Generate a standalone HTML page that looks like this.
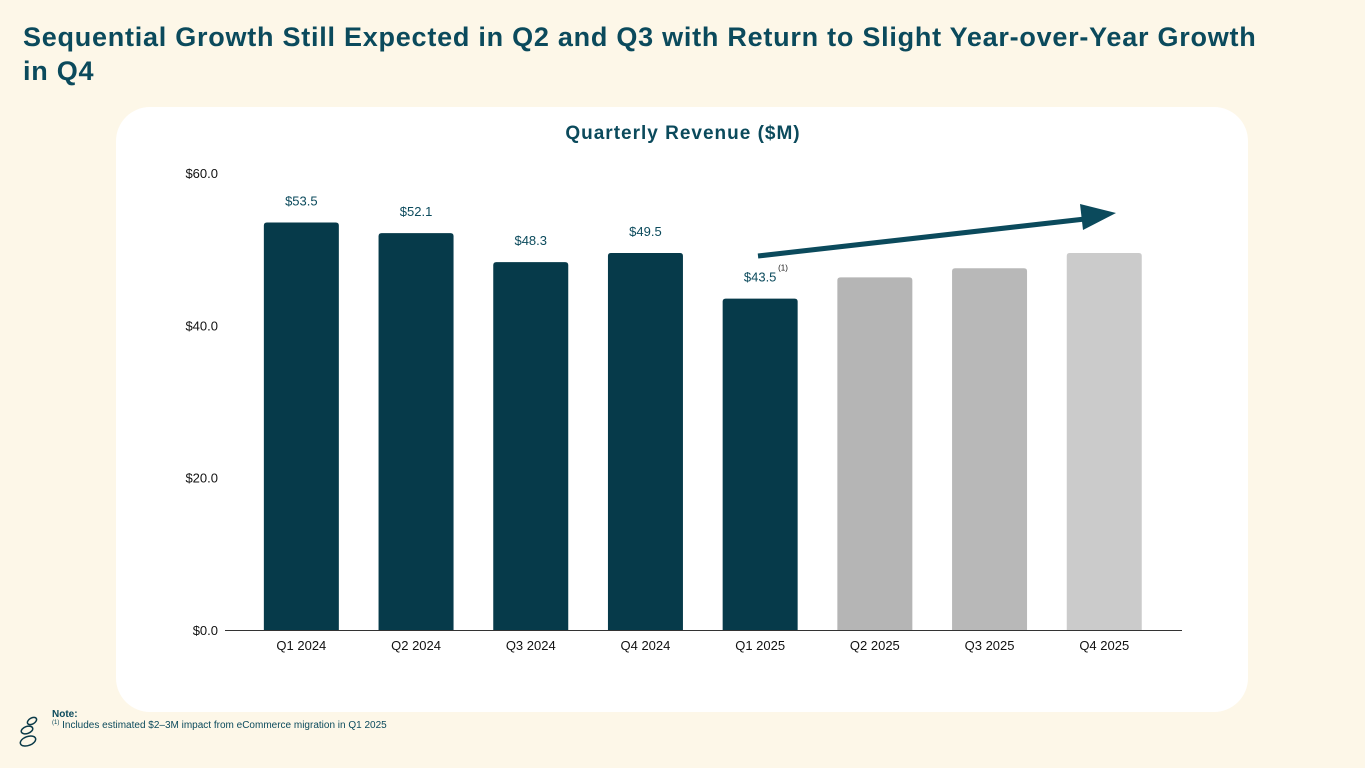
<!DOCTYPE html>
<html><head><meta charset="utf-8">
<style>
body{margin:0;width:1365px;height:768px;background:#fdf7e8;font-family:"Liberation Sans",sans-serif;position:relative;overflow:hidden}
#title{position:absolute;left:23px;top:20px;font-size:27px;font-weight:bold;color:#0b4a5c;line-height:34px;letter-spacing:0.75px}
#card{position:absolute;left:116px;top:107px;width:1132px;height:605px;background:#fff;border-radius:34px}
#note{position:absolute;left:52px;top:709px;font-size:10px;color:#0b4a5c}
</style></head><body>
<div id="title">Sequential Growth Still Expected in Q2 and Q3 with Return to Slight Year-over-Year Growth<br>in Q4</div>
<div id="card"></div>
<svg id="chart" width="1365" height="768" style="position:absolute;left:0;top:0">
<text x="683" y="139" text-anchor="middle" font-size="19" font-weight="bold" fill="#0b4a5c" letter-spacing="1">Quarterly Revenue ($M)</text>
</svg>
<div id="note"><b>Note:</b><br><span style="font-size:6px;vertical-align:top">(1)</span> Includes estimated $2–3M impact from eCommerce migration in Q1 2025</div>
<svg width="30" height="40" style="position:absolute;left:15px;top:712px">
<ellipse cx="17" cy="9" rx="5" ry="3" fill="none" stroke="#0b3a48" stroke-width="1.5" transform="rotate(-30 17 9)"/>
<ellipse cx="12" cy="18" rx="6" ry="3.5" fill="none" stroke="#0b3a48" stroke-width="1.5" transform="rotate(-20 12 18)"/>
<ellipse cx="13" cy="29" rx="8" ry="4.5" fill="none" stroke="#0b3a48" stroke-width="1.5" transform="rotate(-20 13 29)"/>
</svg>
<script>
const categories=["Q1 2024","Q2 2024","Q3 2024","Q4 2024","Q1 2025","Q2 2025","Q3 2025","Q4 2025"];
const values=[53.5,52.1,48.3,49.5,43.5,46.3,47.5,49.5];
const valueLabels=["$53.5","$52.1","$48.3","$49.5","$43.5","","",""];
const barColors=["#063a4a","#063a4a","#063a4a","#063a4a","#063a4a","#b5b5b5","#b8b8b8","#cbcbcb"];
const yTicks=[0,20,40,60];
const yTickLabels=["$0.0","$20.0","$40.0","$60.0"];
const svg=document.getElementById('chart');
const NS='http://www.w3.org/2000/svg';
const y0=630,yTop=173,yMax=60;
const yS=v=>y0-(y0-yTop)*v/yMax;
const x0=244,step=114.7,bw=75;
const xC=i=>x0+step*(i+0.5);
function mk(t,a){const e=document.createElementNS(NS,t);for(const k in a)e.setAttribute(k,a[k]);svg.appendChild(e);return e;}
yTicks.forEach((t,i)=>{
 const e=mk('text',{x:218,y:yS(t)+5,'text-anchor':'end','font-size':13,fill:'#111'});
 e.textContent=yTickLabels[i];
 
 
});
const ax=mk('line',{x1:225,x2:1182,y1:y0+0.5,y2:y0+0.5,stroke:'#333','stroke-width':1});


categories.forEach((c,i)=>{
 const top=yS(values[i]);
 const b=mk('path',{d:`M${xC(i)-bw/2},${y0} V${top+3} Q${xC(i)-bw/2},${top} ${xC(i)-bw/2+3},${top} H${xC(i)+bw/2-3} Q${xC(i)+bw/2},${top} ${xC(i)+bw/2},${top+3} V${y0} Z`,fill:barColors[i]});
 
 
 const l=mk('text',{x:xC(i),y:y0+20,'text-anchor':'middle','font-size':13,fill:'#111'});
 l.textContent=c;
 
 
 if(valueLabels[i]){
  const v=mk('text',{x:xC(i),y:top-17,'text-anchor':'middle','font-size':13,fill:'#0b4a5c'});
  v.textContent=valueLabels[i];
  
  
 }
});
const fn=mk('text',{x:xC(4)+18,y:yS(values[4])-28,'font-size':8,fill:'#111'});
fn.textContent='(1)';


const arr=mk('g',{});


const ln=document.createElementNS(NS,'line');
ln.setAttribute('x1',758);ln.setAttribute('y1',256);ln.setAttribute('x2',1085);ln.setAttribute('y2',219);
ln.setAttribute('stroke','#0b4a5c');ln.setAttribute('stroke-width',5);arr.appendChild(ln);
const hd=document.createElementNS(NS,'polygon');
hd.setAttribute('points','1116,213 1080,204 1083,230');hd.setAttribute('fill','#0b4a5c');arr.appendChild(hd);
</script>
</body></html>
